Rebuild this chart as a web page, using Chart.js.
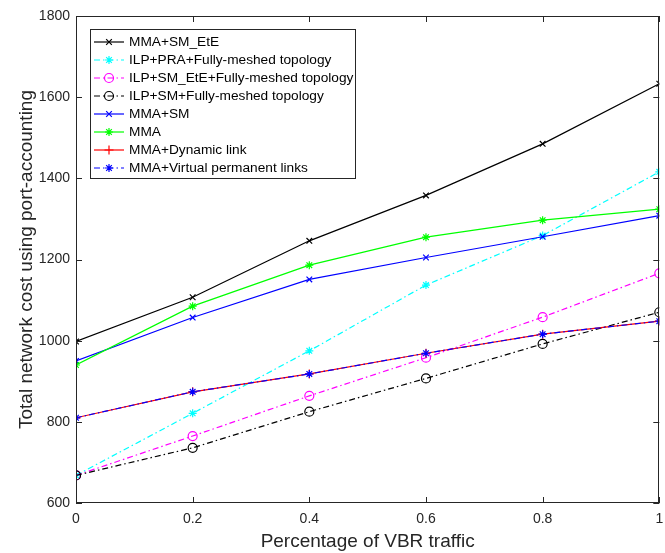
<!DOCTYPE html>
<html>
<head>
<meta charset="utf-8">
<script src="https://cdn.jsdelivr.net/npm/chart.js@4.4.1/dist/chart.umd.min.js"></script>
<style>
  html, body { margin: 0; padding: 0; background: #ffffff; }
  #wrap { width: 665px; height: 553px; position: relative; }
</style>
</head>
<body>
<div id="wrap"><canvas id="c" width="665" height="553"></canvas></div>
<script>
// ---- data ----
const xValues = [0, 0.2, 0.4, 0.6, 0.8, 1];
const xTickLabels = ['0', '0.2', '0.4', '0.6', '0.8', '1'];
const yTickValues = [600, 800, 1000, 1200, 1400, 1600, 1800];

const seriesNames = [
  'MMA+SM_EtE',
  'ILP+PRA+Fully-meshed topology',
  'ILP+SM_EtE+Fully-meshed topology',
  'ILP+SM+Fully-meshed topology',
  'MMA+SM',
  'MMA',
  'MMA+Dynamic link',
  'MMA+Virtual permanent links'
];
const mmaSmEte       = [998, 1107, 1246, 1358, 1485, 1633];
const ilpPraFull     = [668, 821, 975, 1137, 1259, 1416];
const ilpSmEteFull   = [668, 765, 864, 958, 1058, 1166];
const ilpSmFull      = [668, 736, 825, 907, 992, 1070];
const mmaSm          = [950, 1057, 1151, 1205, 1256, 1308];
const mma            = [940, 1085, 1186, 1255, 1297, 1324];
const mmaDynamic     = [810, 874, 918, 969, 1016, 1048];
const mmaVirtual     = [810, 874, 918, 969, 1016, 1048];

// ---- styles ----
const DASHDOT = [6, 3, 1.5, 3];
const styles = [
  { color: '#000000', dash: [],      point: 'crossRot', r: 4 },
  { color: '#00ffff', dash: DASHDOT, point: 'star',     r: 4 },
  { color: '#ff00ff', dash: DASHDOT, point: 'circle',   r: 4.5 },
  { color: '#000000', dash: DASHDOT, point: 'circle',   r: 4.5 },
  { color: '#0000ff', dash: [],      point: 'crossRot', r: 4 },
  { color: '#00ff00', dash: [],      point: 'star',     r: 4 },
  { color: '#ff0000', dash: [],      point: 'cross',    r: 4.5 },
  { color: '#0000ff', dash: DASHDOT, point: 'star',     r: 4 }
];
const seriesValues = [mmaSmEte, ilpPraFull, ilpSmEteFull, ilpSmFull, mmaSm, mma, mmaDynamic, mmaVirtual];

const datasets = seriesValues.map((vals, i) => ({
  label: seriesNames[i],
  data: vals.map((v, k) => ({ x: xValues[k], y: v })),
  borderColor: styles[i].color,
  backgroundColor: 'rgba(0,0,0,0)',
  borderWidth: 1.2,
  borderDash: styles[i].dash,
  pointStyle: styles[i].point,
  pointRadius: styles[i].r,
  pointHoverRadius: styles[i].r,
  pointBorderColor: styles[i].color,
  pointBackgroundColor: 'rgba(0,0,0,0)',
  pointBorderWidth: 1.2,
  tension: 0,
  fill: false,
  order: seriesValues.length - i
}));

const AXIS_COLOR = '#262626';
const FONT = 'Liberation Sans, Arial, Helvetica, sans-serif';

const boxPlugin = {
  id: 'matlabBox',
  afterDatasetsDraw(chart) {
    const { ctx, chartArea: a, scales } = chart;
    ctx.save();
    ctx.strokeStyle = AXIS_COLOR;
    ctx.lineWidth = 1;
    ctx.setLineDash([]);
    ctx.strokeRect(Math.round(a.left) + 0.5, Math.round(a.top) + 0.5,
                   Math.round(a.right - a.left) - 1, Math.round(a.bottom - a.top) - 1);
    const tl = 6;
    ctx.beginPath();
    scales.x.ticks.forEach(t => {
      const px = Math.round(scales.x.getPixelForValue(t.value)) + 0.5;
      ctx.moveTo(px, a.bottom); ctx.lineTo(px, a.bottom - tl);
      ctx.moveTo(px, a.top); ctx.lineTo(px, a.top + tl);
    });
    scales.y.ticks.forEach(t => {
      const py = Math.round(scales.y.getPixelForValue(t.value)) + 0.5;
      ctx.moveTo(a.left, py); ctx.lineTo(a.left + tl, py);
      ctx.moveTo(a.right, py); ctx.lineTo(a.right - tl, py);
    });
    ctx.stroke();
    ctx.restore();
  },
  afterDraw(chart) {
    // legend box inside plot area (north-west)
    const { ctx, chartArea: a } = chart;
    const bx = a.left + 14, by = a.top + 13, bw = 265, bh = 149;
    ctx.save();
    ctx.fillStyle = '#ffffff';
    ctx.fillRect(bx, by, bw, bh);
    ctx.strokeStyle = AXIS_COLOR;
    ctx.lineWidth = 1;
    ctx.setLineDash([]);
    ctx.strokeRect(Math.round(bx) + 0.5, Math.round(by) + 0.5, bw, bh);
    ctx.font = '13.7px ' + FONT;
    ctx.textBaseline = 'middle';
    ctx.textAlign = 'left';
    chart.data.datasets.forEach((ds, i) => {
      const y = by + 13 + i * 18.0;
      const x0 = bx + 4, x1 = bx + 34;
      ctx.strokeStyle = ds.borderColor;
      ctx.lineWidth = ds.borderWidth;
      ctx.setLineDash(ds.borderDash || []);
      ctx.beginPath();
      ctx.moveTo(x0, y); ctx.lineTo(x1, y);
      ctx.stroke();
      ctx.setLineDash([]);
      ctx.strokeStyle = ds.pointBorderColor;
      ctx.fillStyle = 'rgba(0,0,0,0)';
      ctx.lineWidth = ds.pointBorderWidth;
      Chart.helpers.drawPoint(ctx, {
        pointStyle: ds.pointStyle, rotation: 0,
        radius: ds.pointRadius, borderWidth: ds.pointBorderWidth
      }, (x0 + x1) / 2, y);
      ctx.fillStyle = '#000000';
      ctx.fillText(ds.label, bx + 39, y + 0.5);
    });
    ctx.restore();
  }
};

new Chart(document.getElementById('c'), {
  type: 'line',
  data: { datasets },
  plugins: [boxPlugin],
  options: {
    responsive: false,
    animation: false,
    events: [],
    layout: { padding: { left: 0, top: 16, right: 4, bottom: 0 } },
    plugins: {
      legend: { display: false },
      tooltip: { enabled: false },
      title: { display: false }
    },
    scales: {
      x: {
        type: 'linear',
        min: 0, max: 1,
        afterFit(scale) { scale.height = 50; scale.paddingRight = 0; scale.paddingLeft = 0; },
        afterBuildTicks(scale) { scale.ticks = xValues.map(v => ({ value: v })); },
        grid: { display: false, drawTicks: false },
        border: { display: false },
        ticks: {
          color: AXIS_COLOR,
          font: { family: FONT, size: 14 },
          padding: 8,
          maxRotation: 0,
          autoSkip: false,
          callback: (v) => { const k = xValues.indexOf(v); return k >= 0 ? xTickLabels[k] : ''; }
        },
        title: {
          display: true,
          text: 'Percentage of VBR traffic',
          color: AXIS_COLOR,
          font: { family: FONT, size: 19 },
          padding: { top: 0, bottom: 0 }
        }
      },
      y: {
        type: 'linear',
        min: 600, max: 1800,
        afterFit(scale) { scale.width = 76; },
        afterBuildTicks(scale) { scale.ticks = yTickValues.map(v => ({ value: v })); },
        grid: { display: false, drawTicks: false },
        border: { display: false },
        ticks: {
          color: AXIS_COLOR,
          font: { family: FONT, size: 14 },
          padding: 6,
          autoSkip: false,
          callback: (v) => String(v)
        },
        title: {
          display: true,
          text: 'Total network cost using port-accounting',
          color: AXIS_COLOR,
          font: { family: FONT, size: 19 },
          padding: { top: 15, bottom: 0 }
        }
      }
    }
  }
});
</script>
</body>
</html>
